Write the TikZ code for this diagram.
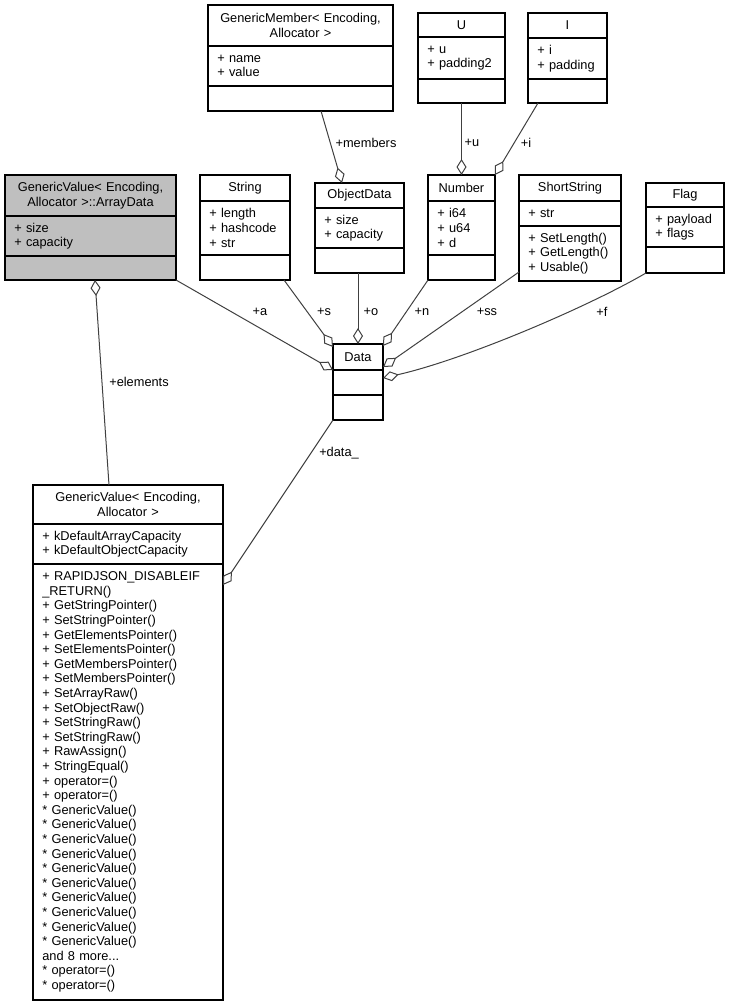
\documentclass[tikz,border=0pt]{standalone}
\usepackage{fontspec}
\setmainfont{Liberation Sans}
\definecolor{linegray}{HTML}{404040}
\definecolor{titlegray}{HTML}{BFBFBF}
\usetikzlibrary{arrows.meta,calc}
\newcommand\umlfont{\fontsize{9.6}{10.95}\selectfont}

\begin{document}
\begin{tikzpicture}[
  x=0.75pt, y=-0.75pt,
  comp/.style 2 args={draw, line width=0.8pt, anchor=north west,
    outer sep=0pt, inner xsep=7pt, inner ysep=0pt,
    text width={0.75*#1pt-14pt}, minimum height={0.75*#2pt},
    align=left, font=\umlfont},
  ctitle/.style 2 args={comp={#1}{#2}, align=center},
  link/.style={-{Diamond[open,length=12pt,width=7.5pt]}, draw=linegray,
    line width=0.75pt},
  lbl/.style={font=\umlfont, inner sep=0pt},
]
  \useasboundingbox (0,0) rectangle (730,1007);

  % ArrayData
  \node[ctitle={171}{41}, fill=titlegray] (ad-t) at (5,175)
    {GenericValue< Encoding,\\Allocator >::ArrayData};
  \node[comp={171}{40}, fill=titlegray] (ad-a) at (ad-t.south west)
    {+ size\\+ capacity};
  \node[comp={171}{24}, fill=titlegray] (ad-m) at (ad-a.south west) {};

  % GenericMember
  \node[ctitle={185}{41}] (gm-t) at (208,5)
    {GenericMember< Encoding,\\Allocator >};
  \node[comp={185}{40}] (gm-a) at (gm-t.south west) {+ name\\+ value};
  \node[comp={185}{25}] (gm-m) at (gm-a.south west) {};

  % U and I
  \node[ctitle={87}{24}] (u-t) at (418,13) {U};
  \node[comp={87}{42}] (u-a) at (u-t.south west) {+ u\\+ padding2};
  \node[comp={87}{24}] (u-m) at (u-a.south west) {};

  \node[ctitle={79}{25}] (i-t) at (528,13) {I};
  \node[comp={79}{41}] (i-a) at (i-t.south west) {+ i\\+ padding};
  \node[comp={79}{24}] (i-m) at (i-a.south west) {};

  % String
  \node[ctitle={90}{26}] (str-t) at (200,175) {String};
  \node[comp={90}{54}] (str-a) at (str-t.south west)
    {+ length\\+ hashcode\\+ str};
  \node[comp={90}{25}] (str-m) at (str-a.south west) {};

  % ObjectData
  \node[ctitle={89}{25}] (od-t) at (315,183) {ObjectData};
  \node[comp={89}{40}] (od-a) at (od-t.south west) {+ size\\+ capacity};
  \node[comp={89}{25}] (od-m) at (od-a.south west) {};

  % Number
  \node[ctitle={67}{26}] (num-t) at (428,175) {Number};
  \node[comp={67}{54}] (num-a) at (num-t.south west) {+ i64\\+ u64\\+ d};
  \node[comp={67}{25}] (num-m) at (num-a.south west) {};

  % ShortString
  \node[ctitle={102}{26}] (ss-t) at (519,175) {ShortString};
  \node[comp={102}{25}] (ss-a) at (ss-t.south west) {+ str};
  \node[comp={102}{55}] (ss-m) at (ss-a.south west)
    {+ SetLength()\\+ GetLength()\\+ Usable()};

  % Flag
  \node[ctitle={78}{24}] (fl-t) at (646,183) {Flag};
  \node[comp={78}{40}] (fl-a) at (fl-t.south west) {+ payload\\+ flags};
  \node[comp={78}{26}] (fl-m) at (fl-a.south west) {};

  % Data
  \node[ctitle={50}{26}] (data-t) at (333,344) {Data};
  \node[comp={50}{25}] (data-a) at (data-t.south west) {};
  \node[comp={50}{25}] (data-m) at (data-a.south west) {};

  % GenericValue
  \node[ctitle={190}{39}] (gv-t) at (33,485)
    {GenericValue< Encoding,\\Allocator >};
  \node[comp={190}{40}] (gv-a) at (gv-t.south west)
    {+ kDefaultArrayCapacity\\+ kDefaultObjectCapacity};
  \node[comp={190}{436}] (gv-m) at (gv-a.south west)
    {+ RAPIDJSON\_DISABLEIF\\\_RETURN()\\+ GetStringPointer()\\
     + SetStringPointer()\\+ GetElementsPointer()\\+ SetElementsPointer()\\
     + GetMembersPointer()\\+ SetMembersPointer()\\+ SetArrayRaw()\\
     + SetObjectRaw()\\+ SetStringRaw()\\+ SetStringRaw()\\+ RawAssign()\\
     + StringEqual()\\+ operator=()\\+ operator=()\\
     {*} GenericValue()\\{*} GenericValue()\\{*} GenericValue()\\
     {*} GenericValue()\\{*} GenericValue()\\{*} GenericValue()\\
     {*} GenericValue()\\{*} GenericValue()\\{*} GenericValue()\\
     {*} GenericValue()\\and 8 more...\\
     {*} operator=()\\{*} operator=()};

  % aggregations
  \draw[link] (ad-m.south east) -- (data-t.south west);
  \draw[link] ($(str-m.south east)+(-6,0)$) -- ($(data-t.north west)+(0,3)$);
  \draw[link] (data-t.north |- od-m.south) -- (data-t.north);
  \draw[link] (num-m.south west) -- ($(data-t.north east)+(0,2)$);
  \draw[link] ($(ss-m.south west)+(0,-9)$) -- ($(data-t.south east)+(0,-3)$);
  \draw[link] (fl-m.south west) .. controls +(-60,35) and +(80,-18)
    .. ($(data-a.north east)+(0,8)$);
  \draw[link] ($(gv-t.north west)+(76,0)$) -- ($(ad-m.south west)+(90,0)$);
  \draw[link] ($(gm-m.south west)+(113,0)$) -- ($(od-t.north west)+(27,0)$);
  \draw[link] (u-m.south) -- (u-m.south |- num-t.north);
  \draw[link] ($(i-m.south west)+(10,0)$) -- (num-t.north east);
  \draw[link] (data-m.south west) -- ($(gv-m.north east)+(0,21)$);

  \node[lbl] (l-a) at (260,312) {+a};
  \node[lbl] (l-s) at (324,312) {+s};
  \node[lbl] (l-o) at (371,312) {+o};
  \node[lbl] (l-n) at (422,312) {+n};
  \node[lbl] (l-ss) at (487,312) {+ss};
  \node[lbl] (l-f) at (602,312) {+f};
  \node[lbl] (l-el) at (139,382) {+elements};
  \node[lbl] (l-dt) at (339,453) {+data\_};
  \node[lbl] (l-mb) at (366,143) {+members};
  \node[lbl] (l-u) at (472,143) {+u};
  \node[lbl] (l-i) at (526,143) {+i};
\end{tikzpicture}
\end{document}
